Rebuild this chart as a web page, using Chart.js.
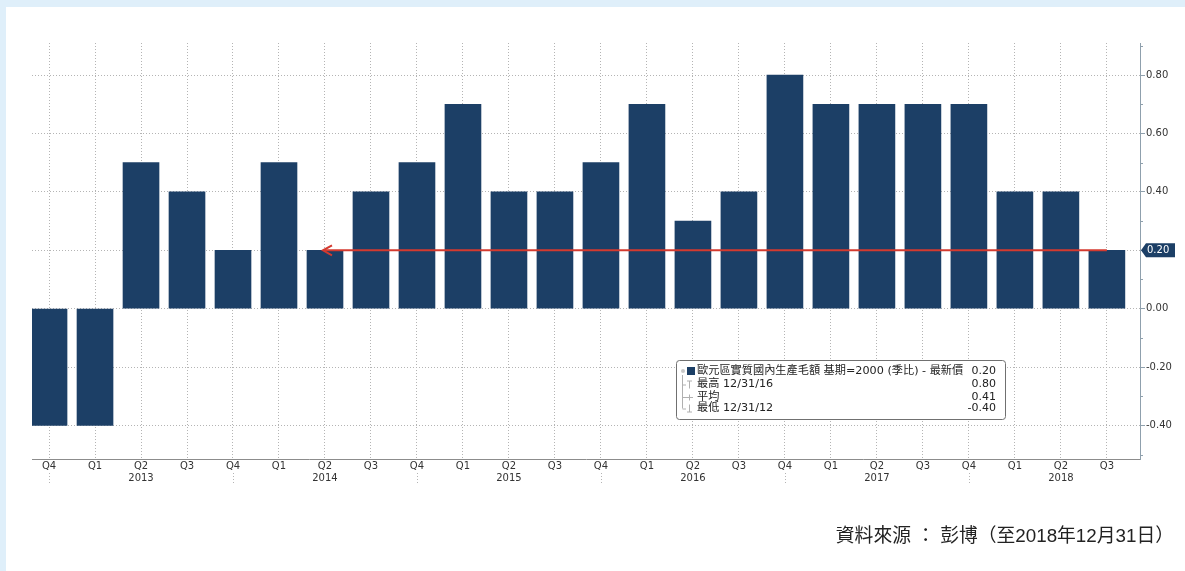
<!DOCTYPE html>
<html>
<head>
<meta charset="utf-8">
<script src="https://cdn.jsdelivr.net/npm/chart.js@4.4.1/dist/chart.umd.min.js"></script>
<style>
  html, body { margin: 0; padding: 0; width: 1185px; height: 571px; overflow: hidden; background: #dfeffa; }
  #panel { position: absolute; left: 6px; top: 7px; right: 0; bottom: 0; background: #ffffff; }
  #chart { position: absolute; left: 0; top: 0; }
  #source { position: absolute; right: 11px; top: 526px; line-height: 19px; font-size: 18.8px;
            font-family: 'Liberation Sans', 'Noto Sans CJK TC', sans-serif; color: #222; white-space: nowrap; }
</style>
</head>
<body>
<div id="panel"></div>
<canvas id="chart" width="1185" height="571"></canvas>
<div id="source">資料來源 ： 彭博（至2018年12月31日）</div>
<script>
// Euro area real GDP, quarter-on-quarter growth (%), Q4 2012 – Q3 2018
const quarters = ['Q4','Q1','Q2','Q3','Q4','Q1','Q2','Q3','Q4','Q1','Q2','Q3',
                  'Q4','Q1','Q2','Q3','Q4','Q1','Q2','Q3','Q4','Q1','Q2','Q3'];
const years    = [2012,2013,2013,2013,2013,2014,2014,2014,2014,2015,2015,2015,
                  2015,2016,2016,2016,2016,2017,2017,2017,2017,2018,2018,2018];
const yearLabels = ['','','2013','','','','2014','','','','2015','',
                    '','','2016','','','','2017','','','','2018',''];
const gdpQoQ   = [-0.40,-0.40,0.50,0.40,0.20,0.50,0.20,0.40,0.50,0.70,0.40,0.40,
                  0.50,0.70,0.30,0.40,0.80,0.70,0.70,0.70,0.70,0.40,0.40,0.20];
const majorTicks = [-0.40,-0.20,0.00,0.20,0.40,0.60,0.80];
const minorTicks = [-0.50,-0.30,-0.10,0.10,0.30,0.50,0.70,0.90];
const seriesName = '歐元區實質國內生產毛額 基期=2000 (季比) - 最新價';

const NAVY = '#1c3f66';
const RED = '#d43a2f';
const GRID = '#b4b4b4';
const AXIS_Y = '#8fa0ad';
const TICK_FONT = "'DejaVu Sans', sans-serif";

// summary statistics for the legend panel
const lastIdx = gdpQoQ.length - 1;
const latest = gdpQoQ[lastIdx];
const hiVal = Math.max(...gdpQoQ);
const loVal = Math.min(...gdpQoQ);
const avgVal = gdpQoQ.reduce((a, b) => a + b, 0) / gdpQoQ.length;
const hiIdx = gdpQoQ.lastIndexOf(hiVal);
const loIdx = gdpQoQ.indexOf(loVal);
const qEnd = { Q1: '3/31', Q2: '6/30', Q3: '9/30', Q4: '12/31' };
const periodEnd = i => qEnd[quarters[i]] + '/' + String(years[i]).slice(2);

// previous quarter with the same reading as the latest one
let prevIdx = lastIdx - 1;
while (prevIdx > 0 && Math.abs(gdpQoQ[prevIdx] - latest) > 1e-9) prevIdx--;

const decorations = {
  id: 'decorations',
  beforeDatasetsDraw(chart) {
    const { ctx, scales: { x }, chartArea } = chart;
    // year separators below the axis at each Q4
    ctx.save();
    ctx.strokeStyle = GRID;
    ctx.lineWidth = 1;
    ctx.setLineDash([1, 2]);
    quarters.forEach((q, i) => {
      if (q !== 'Q4') return;
      const px = Math.round(x.getPixelForValue(i)) + 0.5;
      ctx.beginPath();
      ctx.moveTo(px, chartArea.bottom + 14);
      ctx.lineTo(px, chartArea.bottom + 26);
      ctx.stroke();
    });
    ctx.restore();
  },
  afterDatasetsDraw(chart) {
    const { ctx, scales: { x, y } } = chart;
    // arrowhead at the start of the latest-value line
    const tipX = x.getPixelForValue(prevIdx) - 2;
    const py = y.getPixelForValue(latest);
    ctx.save();
    ctx.strokeStyle = RED;
    ctx.lineWidth = 2;
    ctx.beginPath();
    ctx.moveTo(tipX + 9, py - 5);
    ctx.lineTo(tipX, py);
    ctx.lineTo(tipX + 9, py + 5);
    ctx.stroke();
    ctx.restore();
  },
  afterDraw(chart) {
    const { ctx, scales: { y }, chartArea } = chart;
    ctx.save();
    // minor ticks on the value axis
    ctx.strokeStyle = AXIS_Y;
    ctx.lineWidth = 1;
    minorTicks.forEach(v => {
      const py = Math.round(y.getPixelForValue(v)) + 0.5;
      ctx.beginPath();
      ctx.moveTo(chartArea.right, py);
      ctx.lineTo(chartArea.right + 3, py);
      ctx.stroke();
    });

    // latest value tag on the axis
    const ty = y.getPixelForValue(latest);
    const tx = chartArea.right + 1;
    ctx.fillStyle = NAVY;
    ctx.beginPath();
    ctx.moveTo(tx, ty);
    ctx.lineTo(tx + 5, ty - 7);
    ctx.lineTo(tx + 34, ty - 7);
    ctx.lineTo(tx + 34, ty + 7);
    ctx.lineTo(tx + 5, ty + 7);
    ctx.closePath();
    ctx.fill();
    ctx.fillStyle = '#ffffff';
    ctx.font = '10px ' + TICK_FONT;
    ctx.textAlign = 'left';
    ctx.textBaseline = 'middle';
    ctx.fillText(latest.toFixed(2), tx + 6, ty + 0.5);

    // legend panel
    const bx = 676.5, by = 360.5, bw = 329, bh = 59;
    ctx.fillStyle = '#ffffff';
    ctx.strokeStyle = '#707070';
    ctx.lineWidth = 1;
    ctx.beginPath();
    ctx.roundRect(bx, by, bw, bh, 3);
    ctx.fill();
    ctx.stroke();

    const rows = [371, 384.5, 397, 408.5];
    // tree connectors
    ctx.strokeStyle = '#b0b0b0';
    ctx.beginPath();
    ctx.moveTo(682.5, 375); ctx.lineTo(682.5, rows[3]);
    for (let r = 1; r < 4; r++) { ctx.moveTo(682.5, rows[r] + 0.5); ctx.lineTo(686, rows[r] + 0.5); }
    // high marker
    ctx.moveTo(687, rows[1] - 3.5); ctx.lineTo(692, rows[1] - 3.5);
    ctx.moveTo(689.5, rows[1] - 3.5); ctx.lineTo(689.5, rows[1] + 4);
    // average marker
    ctx.moveTo(686, rows[2] + 0.5); ctx.lineTo(693, rows[2] + 0.5);
    ctx.moveTo(689.5, rows[2] - 2.5); ctx.lineTo(689.5, rows[2] + 3.5);
    // low marker
    ctx.moveTo(689.5, rows[3] - 4); ctx.lineTo(689.5, rows[3] + 3.5);
    ctx.moveTo(687, rows[3] + 3.5); ctx.lineTo(692, rows[3] + 3.5);
    ctx.stroke();
    ctx.fillStyle = '#c8c8c8';
    ctx.beginPath(); ctx.arc(683, rows[0], 2, 0, Math.PI * 2); ctx.fill();
    ctx.fillStyle = NAVY;
    ctx.fillRect(687, rows[0] - 4, 8, 8);

    ctx.fillStyle = '#222';
    ctx.textBaseline = 'middle';
    const labels = [seriesName, '最高 ' + periodEnd(hiIdx), '平均', '最低 ' + periodEnd(loIdx)];
    const nums = [latest, hiVal, avgVal, loVal];
    labels.forEach((t, r) => {
      ctx.font = "11.2px 'DejaVu Sans', 'Noto Sans CJK TC', sans-serif";
      ctx.textAlign = 'left';
      ctx.fillText(t, 697, rows[r]);
      ctx.font = "11px 'DejaVu Sans', sans-serif";
      ctx.textAlign = 'right';
      ctx.fillText(nums[r].toFixed(2), 996, rows[r]);
    });
    ctx.restore();
  }
};

new Chart(document.getElementById('chart'), {
  type: 'bar',
  data: {
    datasets: [
      {
        type: 'line',
        data: [{ x: prevIdx, y: latest }, { x: lastIdx, y: latest }],
        borderColor: RED,
        borderWidth: 2,
        pointRadius: 0,
        order: 0
      },
      {
        type: 'bar',
        data: gdpQoQ.map((v, i) => ({ x: i, y: v })),
        backgroundColor: NAVY,
        borderWidth: 0,
        barThickness: 36,
        order: 1
      }
    ]
  },
  options: {
    responsive: false,
    animation: false,
    events: [],
    layout: { padding: { top: 43, left: 32, right: 0, bottom: 0 } },
    plugins: { legend: { display: false }, tooltip: { enabled: false } },
    scales: {
      x: {
        type: 'linear',
        offset: false,
        min: -0.37,
        max: 23.72,
        afterBuildTicks: s => { s.ticks = quarters.map((q, i) => ({ value: i })); },
        afterFit: s => { s.height = 112; },
        ticks: {
          autoSkip: false,
          maxRotation: 0,
          padding: 1,
          color: '#333',
          font: { family: TICK_FONT, size: 10, lineHeight: 1.2 },
          callback: v => yearLabels[v] ? [quarters[v], yearLabels[v]] : quarters[v]
        },
        grid: { color: GRID, lineWidth: 1, drawTicks: false, offset: false },
        border: { display: true, color: '#8c8c8c', width: 1, dash: [1, 2] }
      },
      y: {
        position: 'right',
        min: -0.515,
        max: 0.91,
        afterBuildTicks: s => { s.ticks = majorTicks.map(v => ({ value: v })); },
        afterFit: s => { s.width = 45; },
        ticks: {
          color: '#333',
          padding: 1,
          font: { family: TICK_FONT, size: 10 },
          callback: v => Number(v).toFixed(2)
        },
        grid: { color: GRID, lineWidth: 1, drawTicks: true, tickLength: 5, tickColor: AXIS_Y },
        border: { display: true, color: AXIS_Y, width: 1, dash: [1, 2] }
      }
    }
  },
  plugins: [decorations]
});
</script>
</body>
</html>
